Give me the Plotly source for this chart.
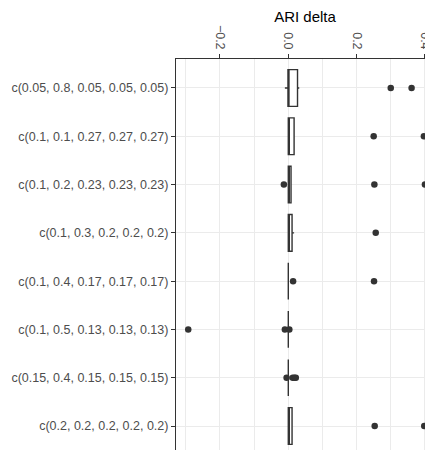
import plotly.graph_objects as go

categories = [
    "c(0.05, 0.8, 0.05, 0.05, 0.05)",
    "c(0.1, 0.1, 0.27, 0.27, 0.27)",
    "c(0.1, 0.2, 0.23, 0.23, 0.23)",
    "c(0.1, 0.3, 0.2, 0.2, 0.2)",
    "c(0.1, 0.4, 0.17, 0.17, 0.17)",
    "c(0.1, 0.5, 0.13, 0.13, 0.13)",
    "c(0.15, 0.4, 0.15, 0.15, 0.15)",
    "c(0.2, 0.2, 0.2, 0.2, 0.2)",
]
lower_fence = [-0.010, 0.000, 0.000, 0.000, 0.0, 0.0, 0.0, 0.000]
q1 =          [-0.001, 0.000, 0.000, 0.000, 0.0, 0.0, 0.0, 0.000]
median =      [0.000, 0.000, 0.000, 0.001, 0.0, 0.0, 0.0, 0.000]
q3 =          [0.027, 0.017, 0.008, 0.011, 0.0, 0.0, 0.0, 0.011]
upper_fence = [0.032, 0.017, 0.008, 0.017, 0.0, 0.0, 0.0, 0.011]

outliers = {
    "c(0.05, 0.8, 0.05, 0.05, 0.05)": [0.300, 0.361],
    "c(0.1, 0.1, 0.27, 0.27, 0.27)": [0.250, 0.397],
    "c(0.1, 0.2, 0.23, 0.23, 0.23)": [-0.013, 0.252, 0.400],
    "c(0.1, 0.3, 0.2, 0.2, 0.2)": [0.256],
    "c(0.1, 0.4, 0.17, 0.17, 0.17)": [0.014, 0.251],
    "c(0.1, 0.5, 0.13, 0.13, 0.13)": [-0.293, -0.010, 0.003],
    "c(0.15, 0.4, 0.15, 0.15, 0.15)": [-0.005, 0.013, 0.018, 0.022],
    "c(0.2, 0.2, 0.2, 0.2, 0.2)": [0.253, 0.398],
}

x_ticks = [-0.2, 0.0, 0.2, 0.4]
x_tick_labels = ["\u22120.2", "0.0", "0.2", "0.4"]

dark = "#333333"
fig = go.Figure()
fig.add_trace(go.Box(
    y=categories, q1=q1, median=median, q3=q3,
    lowerfence=lower_fence, upperfence=upper_fence,
    orientation="h", boxpoints=False,
    fillcolor="white", line=dict(color=dark, width=1.4),
    width=0.76, whiskerwidth=0, showlegend=False, hoverinfo="skip",
))

ox, oy = [], []
for c in categories:
    for v in outliers[c]:
        ox.append(v)
        oy.append(c)
fig.add_trace(go.Scatter(
    x=ox, y=oy, mode="markers",
    marker=dict(color=dark, size=6.5, line=dict(width=0)),
    showlegend=False, hoverinfo="skip", cliponaxis=False,
))

fig.update_layout(
    width=433, height=450,
    margin=dict(l=168, r=7, t=51, b=3, autoexpand=False),
    paper_bgcolor="white", plot_bgcolor="white",
    font=dict(family="Liberation Sans, Arial, sans-serif", size=12.5, color="#4D4D4D"),
)
fig.update_xaxes(
    side="top", range=[-0.3288, 0.4266], automargin=False,
    tickvals=x_ticks, ticktext=x_tick_labels, tickangle=90,
    ticks="outside", ticklen=4, tickwidth=1.1, tickcolor=dark,
    showline=True, linecolor=dark, linewidth=1.1, mirror=True,
    showgrid=True, gridcolor="#EBEBEB", gridwidth=1.1,
    minor=dict(tickvals=[-0.3, -0.1, 0.1, 0.3], showgrid=True,
               gridcolor="#EBEBEB", gridwidth=0.6, ticks=""),
    zeroline=False,
    title=dict(text="ARI delta", font=dict(size=15, color="black"), standoff=6),
)
fig.update_yaxes(
    type="category", categoryorder="array", categoryarray=categories,
    range=[7.6, -0.6], automargin=False,
    ticks="outside", ticklen=4, tickwidth=1.1, tickcolor=dark,
    showline=True, linecolor=dark, linewidth=1.1, mirror=True,
    showgrid=True, gridcolor="#EBEBEB", gridwidth=1.1,
    zeroline=False,
)

fig.write_html("out.html")
